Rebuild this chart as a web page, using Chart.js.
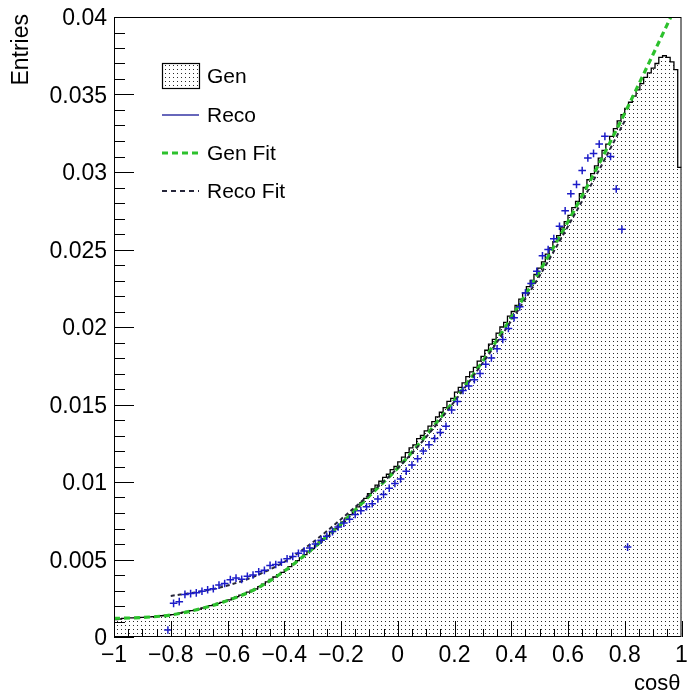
<!DOCTYPE html>
<html>
<head>
<meta charset="utf-8">
<script src="https://cdn.jsdelivr.net/npm/chart.js@4.4.1/dist/chart.umd.min.js"></script>
<style>
  html, body { margin: 0; padding: 0; background: #fff; }
  canvas { display: block; }
</style>
</head>
<body>
<canvas id="c" width="687" height="692"></canvas>
<script>
'use strict';

// axis ranges
const xMin = -1, xMax = 1;
const yMin = 0, yMax = 0.04;

// Gen histogram: 150 bins over [-1, 1]
const genBinCount = 150;
const genValues = [
  0.00112, 0.00116, 0.00120, 0.00122, 0.00123, 0.00124, 0.00125, 0.00126, 0.00128, 0.00130, 0.00132, 0.00134, 0.00137, 0.00139, 0.00141,
  0.00145, 0.00150, 0.00155, 0.00160, 0.00165, 0.00170, 0.00175, 0.00180, 0.00187, 0.00195, 0.00202, 0.00209, 0.00217, 0.00224, 0.00231,
  0.00240, 0.00250, 0.00260, 0.00270, 0.00280, 0.00290, 0.00300, 0.00310, 0.00325, 0.00341, 0.00356, 0.00371, 0.00387, 0.00402, 0.00417,
  0.00435, 0.00454, 0.00473, 0.00493, 0.00512, 0.00531, 0.00551, 0.00570, 0.00591, 0.00613, 0.00634, 0.00655, 0.00677, 0.00698, 0.00719,
  0.00742, 0.00766, 0.00790, 0.00814, 0.00840, 0.00866, 0.00895, 0.00925, 0.00955, 0.00980, 0.01005, 0.01030, 0.01050, 0.01080, 0.01100,
  0.01130, 0.01160, 0.01190, 0.01220, 0.01240, 0.01280, 0.01300, 0.01330, 0.01360, 0.01390, 0.01420, 0.01450, 0.01480, 0.01520, 0.01540,
  0.01580, 0.01610, 0.01640, 0.01680, 0.01710, 0.01740, 0.01780, 0.01810, 0.01850, 0.01890, 0.01920, 0.01960, 0.02000, 0.02030, 0.02070,
  0.02100, 0.02140, 0.02180, 0.02220, 0.02260, 0.02300, 0.02340, 0.02380, 0.02420, 0.02470, 0.02510, 0.02550, 0.02590, 0.02640, 0.02680,
  0.02720, 0.02770, 0.02810, 0.02860, 0.02900, 0.02950, 0.02990, 0.03040, 0.03090, 0.03140, 0.03180, 0.03230, 0.03280, 0.03330, 0.03370,
  0.03410, 0.03450, 0.03490, 0.03530, 0.03570, 0.03610, 0.03640, 0.03670, 0.03700, 0.03740, 0.03750, 0.03740, 0.03710, 0.03660, 0.03030
];

// Reco points: bins of width 0.02, centres from -0.81 to 0.81
const recoFirstCentre = -0.81;
const recoBinWidth = 0.02;
const recoValues = [
  0.00045, 0.00217, 0.00228, 0.00275, 0.00280, 0.00285, 0.00295, 0.00305, 0.00312, 0.00335,
  0.00345, 0.00370, 0.00380, 0.00372, 0.00392, 0.00400, 0.00421, 0.00430, 0.00462, 0.00468,
  0.00482, 0.00505, 0.00520, 0.00540, 0.00555, 0.00575, 0.00600, 0.00625, 0.00650, 0.00680,
  0.00710, 0.00735, 0.00760, 0.00790, 0.00815, 0.00840, 0.00860, 0.00890, 0.00920, 0.00960,
  0.00990, 0.01020, 0.01070, 0.01110, 0.01150, 0.01200, 0.01240, 0.01280, 0.01320, 0.01360,
  0.01465, 0.01520, 0.01590, 0.01620, 0.01660, 0.01700, 0.01760, 0.01800, 0.01860, 0.01920,
  0.01990, 0.02060, 0.02130, 0.02220, 0.02280, 0.02360, 0.02460, 0.02500, 0.02570, 0.02650,
  0.02750, 0.02860, 0.02920, 0.03010, 0.03090, 0.03120, 0.03180, 0.03230, 0.03100, 0.02890,
  0.02630, 0.00580
];

// fit curves
const genFitX = [-1, -0.9, -0.8, -0.7, -0.6, -0.5, -0.4, -0.3, -0.2, -0.1, 0, 0.1, 0.2, 0.3, 0.4, 0.5, 0.6, 0.7, 0.8, 0.9, 0.97];
const genFitY = [0.00120, 0.00126, 0.00142, 0.00180, 0.00235, 0.00310, 0.00425, 0.00570, 0.00730, 0.00910, 0.01090,
                 0.01300, 0.01530, 0.01780, 0.02060, 0.02360, 0.02680, 0.03020, 0.03380, 0.03760, 0.04030];
const recoFitX = [-0.8, -0.7, -0.6, -0.5, -0.4, -0.3, -0.2, -0.1, 0, 0.1, 0.2, 0.3, 0.4, 0.5, 0.6, 0.7, 0.8];
const recoFitY = [0.00265, 0.00292, 0.00332, 0.00395, 0.00485, 0.00610, 0.00760, 0.00920, 0.01090,
                  0.01290, 0.01520, 0.01770, 0.02040, 0.02330, 0.02650, 0.02980, 0.03330];

// axis ticks
const yTickValues = [0, 0.005, 0.01, 0.015, 0.02, 0.025, 0.03, 0.035, 0.04];
const yTickLabels = ['0', '0.005', '0.01', '0.015', '0.02', '0.025', '0.03', '0.035', '0.04'];
const xTickValues = [-1, -0.8, -0.6, -0.4, -0.2, 0, 0.2, 0.4, 0.6, 0.8, 1];
const xTickLabels = ['\u22121', '\u22120.8', '\u22120.6', '\u22120.4', '\u22120.2', '0', '0.2', '0.4', '0.6', '0.8', '1'];

const legendLabels = ['Gen', 'Reco', 'Gen Fit', 'Reco Fit'];

const FONT = '"Liberation Sans", Arial, Helvetica, sans-serif';
const GREEN = '#2cc12c';
const BLUE = '#1c1cc8';
const RECO_FIT = '#26263a';

// dotted fill like ROOT style 3001
function makeDots() {
  const tile = document.createElement('canvas');
  tile.width = 4; tile.height = 4;
  const t = tile.getContext('2d');
  t.fillStyle = '#2a2a2a';
  t.fillRect(1, 1, 1, 1);
  return document.getElementById('c').getContext('2d').createPattern(tile, 'repeat');
}
const dots = makeDots();

const binW = (xMax - xMin) / genBinCount;
const genPoints = genValues.map((v, i) => ({ x: xMin + i * binW, y: v }));
genPoints.push({ x: xMax, y: genValues[genValues.length - 1] });

const recoPoints = recoValues.map((v, i) => ({ x: recoFirstCentre + i * recoBinWidth, y: v }));
const genFitPoints = genFitX.map((x, i) => ({ x, y: genFitY[i] }));
const recoFitPoints = recoFitX.map((x, i) => ({ x, y: recoFitY[i] }));

const rootAxes = {
  id: 'rootAxes',
  afterDatasetsDraw(chart) {
    const { ctx, chartArea: a } = chart;
    const xs = chart.scales.x, ys = chart.scales.y;
    ctx.save();
    ctx.strokeStyle = '#000';
    ctx.fillStyle = '#000';
    ctx.lineWidth = 1;

    // frame
    ctx.strokeRect(a.left + 0.5, a.top + 0.5, a.right - a.left - 1, a.bottom - a.top - 1);

    // y ticks: majors every 0.005, 5 subdivisions
    ctx.beginPath();
    for (let i = 0; i < yTickValues.length; i++) {
      const py = Math.round(ys.getPixelForValue(yTickValues[i])) + 0.5;
      ctx.moveTo(a.left, py); ctx.lineTo(a.left + 20, py);
      if (i < yTickValues.length - 1) {
        const step = (yTickValues[i + 1] - yTickValues[i]) / 5;
        for (let k = 1; k < 5; k++) {
          const my = Math.round(ys.getPixelForValue(yTickValues[i] + k * step)) + 0.5;
          ctx.moveTo(a.left, my); ctx.lineTo(a.left + 11, my);
        }
      }
    }
    // x ticks: majors every 0.2, 4 subdivisions
    for (let i = 0; i < xTickValues.length; i++) {
      const px = Math.round(xs.getPixelForValue(xTickValues[i])) + 0.5;
      ctx.moveTo(px, a.bottom); ctx.lineTo(px, a.bottom - 16);
      if (i < xTickValues.length - 1) {
        const step = (xTickValues[i + 1] - xTickValues[i]) / 4;
        for (let k = 1; k < 4; k++) {
          const mx = Math.round(xs.getPixelForValue(xTickValues[i] + k * step)) + 0.5;
          ctx.moveTo(mx, a.bottom); ctx.lineTo(mx, a.bottom - 8);
        }
      }
    }
    ctx.stroke();

    // tick labels
    ctx.font = '23px ' + FONT;
    ctx.textAlign = 'right';
    ctx.textBaseline = 'middle';
    yTickValues.forEach((v, i) => {
      ctx.fillText(yTickLabels[i], a.left - 7, ys.getPixelForValue(v) + 2);
    });
    ctx.textAlign = 'center';
    xTickValues.forEach((v, i) => {
      ctx.fillText(xTickLabels[i], xs.getPixelForValue(v), a.bottom + 19);
    });

    // axis titles
    ctx.font = '22px ' + FONT;
    ctx.textAlign = 'right';
    ctx.fillText('cos\u03b8', a.right - 1, 684);
    ctx.save();
    ctx.translate(22, a.top - 3);
    ctx.rotate(-Math.PI / 2);
    ctx.font = '23px ' + FONT;
    ctx.fillText('Entries', 0, 0);
    ctx.restore();

    // legend
    const lx0 = 162, lx1 = 199, tx = 207;
    const rows = [76, 115, 153, 191];
    ctx.font = '21px ' + FONT;
    ctx.textAlign = 'left';
    ctx.fillStyle = dots;
    ctx.fillRect(lx0, 63, lx1 - lx0, 25);
    ctx.strokeStyle = '#000';
    ctx.lineWidth = 1.2;
    ctx.strokeRect(lx0 + 0.5, 63.5, lx1 - lx0, 25);

    ctx.beginPath();
    ctx.strokeStyle = '#3434a4';
    ctx.lineWidth = 1.5;
    ctx.moveTo(lx0, rows[1]); ctx.lineTo(lx1, rows[1]);
    ctx.stroke();

    ctx.beginPath();
    ctx.strokeStyle = GREEN;
    ctx.lineWidth = 3;
    ctx.setLineDash([6, 4]);
    ctx.moveTo(lx0, rows[2]); ctx.lineTo(lx1, rows[2]);
    ctx.stroke();

    ctx.beginPath();
    ctx.strokeStyle = RECO_FIT;
    ctx.lineWidth = 2;
    ctx.setLineDash([5, 4]);
    ctx.moveTo(lx0, rows[3]); ctx.lineTo(lx1, rows[3]);
    ctx.stroke();
    ctx.setLineDash([]);

    ctx.fillStyle = '#000';
    legendLabels.forEach((t, i) => ctx.fillText(t, tx, rows[i] + 1));
    ctx.restore();
  }
};

new Chart(document.getElementById('c'), {
  type: 'scatter',
  data: {
    datasets: [
      {
        type: 'scatter',
        label: 'Reco',
        data: recoPoints,
        pointStyle: 'cross',
        pointRadius: 3.8,
        borderColor: BLUE,
        backgroundColor: BLUE,
        borderWidth: 1.5,
        order: 0
      },
      {
        type: 'line',
        label: 'Reco Fit',
        data: recoFitPoints,
        borderColor: RECO_FIT,
        borderWidth: 2,
        borderDash: [4, 3],
        cubicInterpolationMode: 'monotone',
        pointRadius: 0,
        fill: false,
        order: 1
      },
      {
        type: 'line',
        label: 'Gen Fit',
        data: genFitPoints,
        borderColor: GREEN,
        borderWidth: 3.2,
        borderDash: [6, 4],
        cubicInterpolationMode: 'monotone',
        pointRadius: 0,
        fill: false,
        order: 2
      },
      {
        type: 'line',
        label: 'Gen',
        data: genPoints,
        stepped: true,
        borderColor: '#000',
        borderWidth: 1.3,
        backgroundColor: dots,
        fill: 'origin',
        pointRadius: 0,
        order: 4
      }
    ]
  },
  options: {
    responsive: false,
    animation: false,
    devicePixelRatio: 1,
    layout: { padding: { left: 114, right: 3, top: 17, bottom: 55 } },
    scales: {
      x: { type: 'linear', min: xMin, max: xMax, display: false },
      y: { type: 'linear', min: yMin, max: yMax, display: false }
    },
    plugins: {
      legend: { display: false },
      tooltip: { enabled: false }
    },
    events: []
  },
  plugins: [rootAxes]
});
</script>
</body>
</html>
